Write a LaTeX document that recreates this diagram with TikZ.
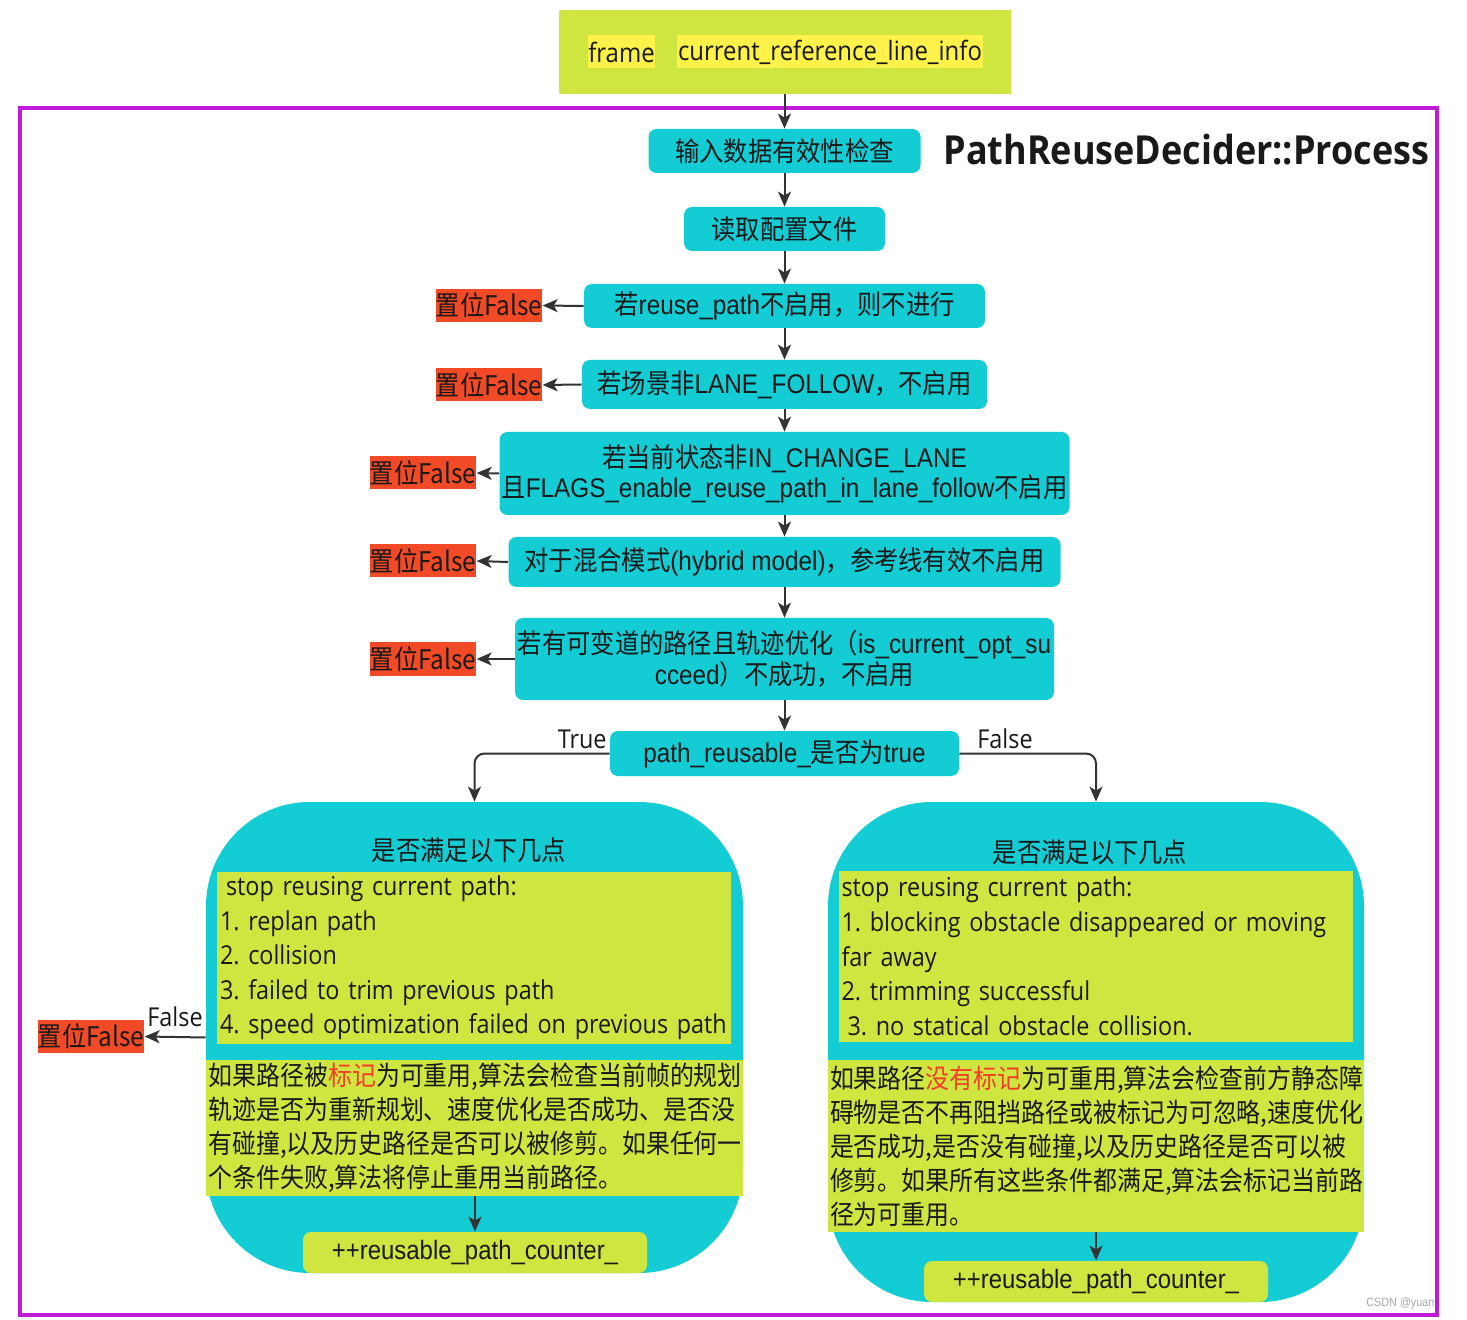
\documentclass[tikz,border=0pt]{standalone}
\usepackage{fontspec}
\setmainfont{Noto Sans CJK SC}[FakeStretch=0.9]
\newfontfamily\osans{Open Sans}[FakeStretch=0.9]
\newfontfamily\arialf{Liberation Sans}[FakeStretch=0.9]
\newcommand\lat[1]{{\arialf #1}}
\frenchspacing
\usetikzlibrary{arrows.meta}
\definecolor{cyanc}{RGB}{19,204,212}
\definecolor{ygc}{RGB}{208,230,64}
\definecolor{hlc}{RGB}{252,242,74}
\definecolor{redc}{RGB}{242,74,38}
\definecolor{redt}{RGB}{245,60,40}
\definecolor{magc}{RGB}{194,26,217}
\definecolor{arrc}{RGB}{51,51,51}
\definecolor{txtc}{RGB}{25,25,25}
\newcommand\boxfont{\fontsize{13.5pt}{14pt}\selectfont}
\newcommand\engfont{\osans\fontsize{13pt}{17.3pt}\selectfont}
\newcommand\parafont{\fontsize{13.3pt}{17pt}\selectfont}
\tikzset{
  cbox/.style={fill=cyanc, rounded corners=4pt, inner sep=1pt, align=center, font=\boxfont, text=txtc},
  rbox/.style={fill=redc, inner sep=0pt, minimum width=53pt, minimum height=16.5pt, font=\boxfont, text=txtc},
  ybox/.style={fill=ygc, inner sep=1.5pt, align=left, text=txtc},
  arr/.style={draw=arrc, line width=1pt, -{Stealth[length=7.5pt,width=6.5pt,inset=2pt]}},
  lbl/.style={font=\osans\fontsize{13pt}{14pt}\selectfont, text=txtc, inner sep=0pt},
  cnt/.style={fill=ygc, rounded corners=4pt, minimum width=172pt, minimum height=20.5pt, inner sep=0pt, font=\arialf\fontsize{13.3pt}{14pt}\selectfont, text=txtc},
  hl/.style={fill=hlc, minimum height=16.5pt, inner sep=0pt, font=\osans\fontsize{13.3pt}{14pt}\selectfont, text=txtc},
}
\begin{document}
\begin{tikzpicture}[x=0.5pt,y=-0.5pt]
\useasboundingbox (0,0) rectangle (1467,1320);
% watermark
\node[anchor=west, text=gray!70, font=\arialf\fontsize{6pt}{7pt}\selectfont, inner sep=0pt] (wm) at (1366,1303) {CSDN @yuan};
% outer magenta frame
\draw[magc, line width=2pt] (20,108) rectangle (1437,1315);
% top input box
\node[fill=ygc, minimum width=226pt, minimum height=42pt, inner sep=0pt] (top) at (784.5,52) {};
\node[hl, minimum width=33.5pt] (fr) at (621.5,52) {frame};
\node[hl, minimum width=153pt] (cr) at (830,52) {current\_reference\_line\_info};
% title
\node[anchor=west, inner sep=0pt, font=\osans\bfseries\fontsize{20pt}{22pt}\selectfont, text=txtc] (title) at (943,150) {PathReuseDecider::Process};
% main chain
\node[cbox, minimum width=136pt, minimum height=22pt] (b1) at (784.5,151) {输入数据有效性检查};
\node[cbox, minimum width=100.5pt, minimum height=22pt] (b2) at (784.5,229) {读取配置文件};
\node[cbox, minimum width=200.5pt, minimum height=22pt] (b3) at (784.5,306) {若\lat{reuse\_path}不启用，则不进行};
\node[cbox, minimum width=202.5pt, minimum height=24.5pt] (b4) at (784.5,384.5) {若场景非\lat{LANE\_FOLLOW}，不启用};
\node[cbox, minimum width=283.5pt, minimum height=41.5pt] (b5) at (784.5,473.5) {若当前状态非\lat{IN\_CHANGE\_LANE}\\且\lat{FLAGS\_enable\_reuse\_path\_in\_lane\_follow}不启用};
\node[cbox, minimum width=276pt, minimum height=25pt] (b6) at (784.5,562) {对于混合模式\lat{(hybrid model)}，参考线有效不启用};
\node[cbox, minimum width=269.5pt, minimum height=41pt] (b7) at (784.5,659) {若有可变道的路径且轨迹优化（\lat{is\_current\_opt\_su}\\\lat{cceed}）不成功，不启用};
\node[cbox, minimum width=174.5pt, minimum height=22.5pt] (b8) at (784.5,753.5) {\lat{path\_reusable\_}是否为\lat{true}};
% false boxes
\node[rbox] (r3) at (489,305.5) {置位False};
\node[rbox] (r4) at (489,385) {置位False};
\node[rbox] (r5) at (423,473) {置位False};
\node[rbox] (r6) at (423,561) {置位False};
\node[rbox] (r7) at (423,659) {置位False};
\node[rbox] (rl) at (91,1036.5) {置位False};
% arrows main
\draw[arr] (top.south) -- (b1.north);
\draw[arr] (b1.south) -- (b2.north);
\draw[arr] (b2.south) -- (b3.north);
\draw[arr] (b3.south) -- (b4.north);
\draw[arr] (b4.south) -- (b5.north);
\draw[arr] (b5.south) -- (b6.north);
\draw[arr] (b6.south) -- (b7.north);
\draw[arr] (b7.south) -- (b8.north);
\draw[arr] (b3.west) -- (r3.east);
\draw[arr] (b4.west) -- (r4.east);
\draw[arr] (b5.west) -- (r5.east);
\draw[arr] (b6.west) -- (r6.east);
\draw[arr] (b7.west) -- (r7.east);
% big boxes
\node[fill=cyanc, rounded corners=52pt, minimum width=268.5pt, minimum height=235.5pt, inner sep=0pt] (L) at (474.5,1037.5) {};
\node[fill=cyanc, rounded corners=52pt, minimum width=268pt, minimum height=250pt, inner sep=0pt] (R) at (1096,1052) {};
\draw[arr, rounded corners=5pt] (b8.west) -| (L.north);
\draw[arr, rounded corners=5pt] (b8.east) -| (R.north);
\node[lbl, anchor=south east] (tl) at (607,749) {True};
\node[lbl, anchor=south west] (fl) at (977,749) {False};
% left big box contents
\node[font=\boxfont, text=txtc, inner sep=0pt] (lt) at (469,850) {是否满足以下几点};
\node[ybox, minimum width=257pt, minimum height=86pt, text width=254pt, font=\engfont] (le) at (474,958) {\hspace*{3pt}stop reusing current path:\\1. replan path\\2. collision\\3. failed to trim previous path\\4. speed optimization failed on previous path};
\node[ybox, minimum width=268.5pt, minimum height=68pt, text width=266pt, inner sep=1pt, font=\parafont] (lp) at (474.5,1128) {如果路径被\textcolor{redt}{标记}为可重用,算法会检查当前帧的规划\\轨迹是否为重新规划、速度优化是否成功、是否没\\有碰撞,以及历史路径是否可以被修剪。如果任何一\\个条件失败,算法将停止重用当前路径。};
\node[cnt] (lc) at (475,1252.5) {++reusable\_path\_counter\_};
\draw[arr] (lp.south -| lc.north) -- (lc.north);
\draw[arr] (L.west) -- (rl.east);
\node[lbl, anchor=south] (lf) at (175,1027) {False};
% right big box contents
\node[font=\boxfont, text=txtc, inner sep=0pt] (rt) at (1090,852) {是否满足以下几点};
\node[ybox, minimum width=256.5pt, minimum height=85.5pt, text width=254pt, font=\engfont] (re) at (1095.5,956.5) {stop reusing current path:\\1. blocking obstacle disappeared or moving\\far away\\2. trimming successful\\\hspace*{3pt}3. no statical obstacle collision.};
\node[ybox, minimum width=268pt, minimum height=86pt, text width=266pt, inner sep=1pt, font=\parafont] (rp) at (1096,1146) {如果路径\textcolor{redt}{没有标记}为可重用,算法会检查前方静态障\\碍物是否不再阻挡路径或被标记为可忽略,速度优化\\是否成功,是否没有碰撞,以及历史路径是否可以被\\修剪。如果所有这些条件都满足,算法会标记当前路\\径为可重用。};
\node[cnt] (rc) at (1096,1281.5) {++reusable\_path\_counter\_};
\draw[arr] (rp.south -| rc.north) -- (rc.north);
\end{tikzpicture}
\end{document}
